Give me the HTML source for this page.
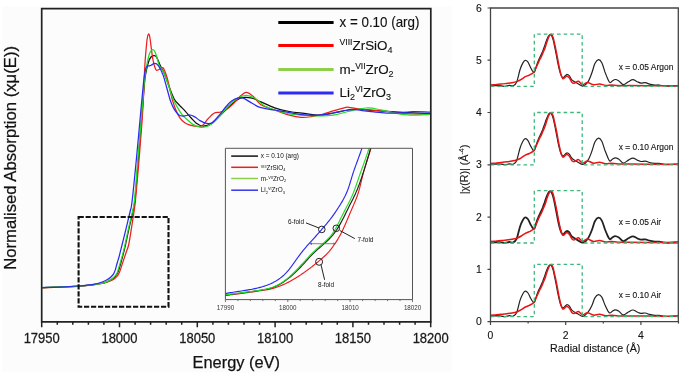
<!DOCTYPE html><html><head><meta charset="utf-8"><style>html,body{margin:0;padding:0;background:#fff;}svg{display:block;will-change:transform;}text{font-family:"Liberation Sans",sans-serif;}.b text,text.b{stroke:#1a1a1a;stroke-width:0.25px;}.s text,text.s{stroke:#1a1a1a;stroke-width:0.12px;}</style></head><body>
<svg width="685" height="375" viewBox="0 0 685 375">
<rect x="0" y="0" width="685" height="375" fill="#fff"/>
<rect x="2" y="6.4" width="449.5" height="366" fill="#fcfcfc"/>
<defs><clipPath id="cm"><rect x="42.5" y="9" width="387.5" height="312"/></clipPath>
<clipPath id="ci"><rect x="225.4" y="148.3" width="187.1" height="151.3"/></clipPath>
<clipPath id="cr"><rect x="490.5" y="8" width="187.5" height="313.6"/></clipPath></defs>
<g clip-path="url(#cm)" fill="none" stroke-width="1.25">
<path d="M42.0 287.7 C48.1 287.4 70.2 286.6 78.7 286.1 C87.2 285.6 89.4 285.1 93.3 284.6 C97.2 284.2 99.7 283.9 102.0 283.4 C104.3 282.9 105.1 282.6 107.0 281.8 C108.9 281.0 111.6 279.6 113.3 278.3 C115.0 277.0 116.0 275.5 117.0 274.0 C118.0 272.5 118.4 271.1 119.0 269.3 C119.6 267.5 120.1 265.4 120.8 263.0 C121.5 260.6 122.4 257.2 123.1 254.6 C123.8 252.0 123.9 251.7 124.9 247.4 C125.9 243.1 127.6 234.7 128.9 228.8 C130.2 222.9 131.8 216.8 132.8 212.0 C133.8 207.2 134.1 208.7 135.0 200.0 C135.9 191.3 137.1 175.0 138.3 160.0 C139.5 145.0 141.2 123.3 142.3 110.0 C143.4 96.7 144.1 86.7 144.8 80.0 C145.5 73.3 145.9 73.0 146.5 70.0 C147.1 67.0 147.8 64.2 148.5 62.0 C149.2 59.8 150.1 58.1 151.0 57.0 C151.9 55.9 153.0 55.6 153.9 55.6 C154.8 55.6 155.4 55.3 156.5 57.0 C157.6 58.7 158.9 62.6 160.3 65.6 C161.7 68.6 163.4 71.2 164.9 74.9 C166.4 78.6 168.0 84.0 169.6 88.0 C171.2 92.0 172.6 96.2 174.3 99.2 C176.0 102.2 178.1 103.7 179.9 105.7 C181.8 107.7 183.6 109.3 185.4 111.3 C187.2 113.3 189.1 115.8 191.0 117.8 C192.9 119.8 194.7 122.0 196.6 123.4 C198.5 124.8 199.9 125.9 202.3 126.0 C204.7 126.1 208.2 125.6 211.1 123.9 C214.0 122.2 217.0 118.6 219.9 115.8 C222.8 113.0 225.8 109.7 228.7 107.0 C231.6 104.3 235.0 101.3 237.4 99.7 C239.8 98.1 240.9 97.8 243.3 97.5 C245.8 97.2 249.2 97.5 252.1 98.2 C255.0 98.9 257.1 100.3 260.9 101.9 C264.7 103.5 270.0 106.3 274.7 107.9 C279.4 109.5 284.4 110.6 289.3 111.5 C294.2 112.4 299.1 112.8 304.0 113.4 C308.9 114.0 313.8 115.3 318.7 115.2 C323.6 115.1 328.4 113.9 333.3 113.0 C338.2 112.1 343.9 110.6 348.0 110.0 C352.1 109.4 352.8 109.1 357.6 109.2 C362.4 109.3 369.9 110.2 376.7 110.7 C383.5 111.2 389.8 111.6 398.7 112.1 C407.6 112.6 424.8 113.3 430.0 113.6" stroke="#111"/>
<path d="M42.0 287.8 C48.1 287.6 70.2 286.8 78.7 286.3 C87.2 285.8 89.4 285.4 93.3 284.8 C97.2 284.2 99.7 283.4 102.0 283.0 C104.3 282.6 105.2 282.7 107.0 282.2 C108.8 281.7 111.3 280.8 113.0 279.8 C114.7 278.8 116.1 277.5 117.2 276.2 C118.3 274.9 118.9 273.6 119.6 272.0 C120.3 270.4 120.7 268.7 121.4 266.6 C122.1 264.5 123.0 261.8 123.8 259.4 C124.6 257.0 125.4 254.6 126.2 252.2 C127.0 249.8 127.8 248.5 128.6 245.0 C129.4 241.5 130.2 236.3 131.0 231.2 C131.8 226.1 132.8 219.6 133.6 214.4 C134.3 209.2 134.6 209.1 135.5 200.0 C136.4 190.9 137.8 175.0 139.0 160.0 C140.2 145.0 141.9 125.0 142.8 110.0 C143.7 95.0 144.1 80.2 144.6 70.0 C145.1 59.8 145.6 54.3 146.1 49.0 C146.6 43.7 146.9 40.5 147.3 38.0 C147.7 35.5 148.1 34.2 148.5 34.0 C148.9 33.8 149.3 34.5 149.8 37.0 C150.3 39.5 150.9 45.2 151.4 49.0 C151.9 52.8 152.4 57.0 153.0 60.0 C153.6 63.0 154.2 65.3 154.8 67.0 C155.4 68.7 155.8 69.9 156.5 70.3 C157.2 70.7 157.9 69.9 159.0 69.5 C160.1 69.1 161.7 66.6 163.0 67.8 C164.3 69.0 165.7 73.4 166.8 76.8 C167.9 80.2 168.7 84.1 169.6 88.0 C170.5 91.9 171.3 96.4 172.4 100.1 C173.5 103.8 174.8 107.5 176.1 110.4 C177.3 113.4 178.5 115.8 179.9 117.8 C181.3 119.8 182.9 121.3 184.5 122.5 C186.1 123.7 187.5 124.3 189.2 124.9 C190.9 125.5 193.0 126.0 194.8 126.2 C196.6 126.4 198.6 126.5 200.0 126.3 C201.4 126.1 201.7 126.3 203.0 125.0 C204.3 123.7 206.3 120.7 208.1 118.7 C209.9 116.7 212.0 114.3 214.0 113.2 C216.0 112.1 218.0 112.6 219.9 112.1 C221.8 111.5 223.5 111.2 225.7 109.9 C227.9 108.6 230.8 106.1 233.0 104.0 C235.2 101.9 236.7 99.5 238.9 97.5 C241.1 95.5 243.8 92.4 246.2 92.3 C248.6 92.2 251.2 94.6 253.6 96.7 C256.1 98.8 257.4 102.6 260.9 104.8 C264.4 107.0 270.0 108.3 274.7 110.0 C279.4 111.7 284.9 114.0 289.3 115.2 C293.7 116.4 297.3 117.2 301.0 117.4 C304.7 117.7 307.9 117.2 311.3 116.7 C314.7 116.2 317.9 115.5 321.6 114.5 C325.3 113.5 329.4 112.0 333.3 110.8 C337.2 109.6 342.4 108.2 345.0 107.6 C347.6 107.0 346.7 107.1 348.8 107.3 C350.9 107.5 354.2 108.4 357.6 108.8 C361.0 109.2 364.9 109.5 369.3 109.9 C373.7 110.3 379.1 110.6 384.0 111.1 C388.9 111.6 393.8 112.4 398.7 112.9 C403.6 113.4 408.1 113.8 413.3 114.0 C418.5 114.2 427.2 114.2 430.0 114.3" stroke="#ee1c1c"/>
<path d="M42.0 287.7 C48.1 287.4 70.2 286.6 78.7 286.1 C87.2 285.6 89.4 285.1 93.3 284.6 C97.2 284.1 99.7 283.8 102.0 283.3 C104.3 282.8 105.2 282.5 107.0 281.6 C108.8 280.7 111.4 279.3 113.0 278.0 C114.6 276.7 115.7 275.3 116.6 273.8 C117.5 272.3 117.8 270.8 118.4 269.0 C119.0 267.2 119.5 265.4 120.2 263.0 C120.9 260.6 121.9 257.2 122.6 254.6 C123.3 252.0 123.4 251.7 124.4 247.4 C125.4 243.1 127.1 234.7 128.4 228.8 C129.7 222.9 131.4 216.8 132.4 212.0 C133.4 207.2 133.6 208.7 134.5 200.0 C135.4 191.3 136.6 175.0 137.8 160.0 C139.1 145.0 140.9 123.3 142.0 110.0 C143.1 96.7 143.8 87.0 144.5 80.0 C145.2 73.0 145.6 71.8 146.3 68.0 C147.0 64.2 147.8 59.8 148.5 57.0 C149.2 54.2 149.8 52.7 150.5 51.5 C151.2 50.3 151.9 49.7 152.6 49.6 C153.3 49.5 153.8 49.9 154.5 51.0 C155.2 52.1 155.7 53.6 156.5 56.0 C157.3 58.4 158.1 62.8 159.3 65.6 C160.6 68.4 162.4 69.6 164.0 73.0 C165.6 76.4 167.3 82.0 168.7 86.0 C170.1 90.0 171.0 93.9 172.4 97.3 C173.8 100.7 175.4 103.8 177.0 106.6 C178.6 109.4 180.0 111.9 181.7 114.1 C183.4 116.3 185.4 118.0 187.3 119.7 C189.2 121.4 190.8 123.2 192.9 124.4 C195.0 125.7 198.0 126.8 200.0 127.2 C202.0 127.6 203.2 127.5 205.0 127.0 C206.8 126.5 208.6 125.8 211.1 123.9 C213.6 122.0 217.0 118.9 219.9 115.8 C222.8 112.7 225.8 108.4 228.7 105.5 C231.6 102.6 234.5 99.9 237.4 98.2 C240.3 96.5 243.3 95.3 246.2 95.3 C249.1 95.3 252.1 96.5 255.0 98.2 C257.9 99.9 260.5 103.5 263.8 105.5 C267.1 107.5 270.4 108.6 274.7 110.0 C278.9 111.4 284.4 113.1 289.3 114.0 C294.2 114.9 299.1 114.9 304.0 115.2 C308.9 115.5 313.8 115.9 318.7 115.9 C323.6 115.9 328.4 115.9 333.3 115.2 C338.2 114.5 342.5 112.7 348.0 111.5 C353.5 110.3 360.9 108.3 366.4 108.0 C371.9 107.7 376.1 109.0 381.0 109.9 C385.9 110.8 390.8 112.3 395.7 113.2 C400.6 114.1 404.7 114.9 410.4 115.1 C416.1 115.3 426.7 114.4 430.0 114.3" stroke="#22dd22"/>
<path d="M42.0 287.6 C45.0 287.5 53.9 287.4 60.0 287.1 C66.1 286.8 73.2 286.4 78.7 286.0 C84.2 285.6 89.4 285.1 93.3 284.4 C97.2 283.7 99.9 282.8 102.2 282.0 C104.5 281.2 105.6 280.6 107.0 279.8 C108.4 279.0 109.5 278.2 110.6 277.2 C111.7 276.2 112.8 275.1 113.6 273.8 C114.4 272.5 114.8 271.4 115.4 269.6 C116.0 267.8 116.6 265.1 117.2 263.0 C117.8 260.9 118.4 259.2 119.0 257.0 C119.6 254.8 120.3 251.8 120.8 249.8 C121.3 247.8 121.1 248.5 122.0 245.0 C122.9 241.5 124.7 234.3 126.0 228.8 C127.3 223.3 129.0 216.5 130.0 212.0 C131.0 207.5 130.9 210.7 132.0 202.0 C133.1 193.3 134.8 175.3 136.3 160.0 C137.8 144.7 139.8 122.0 140.9 110.0 C142.0 98.0 142.4 94.0 143.0 88.0 C143.6 82.0 144.0 77.5 144.6 74.0 C145.2 70.5 145.6 68.4 146.4 67.0 C147.2 65.6 148.5 66.1 149.3 65.8 C150.1 65.5 150.1 65.7 151.0 65.3 C151.9 64.9 153.5 63.4 154.7 63.4 C155.9 63.4 157.0 63.7 158.4 65.6 C159.8 67.5 161.6 71.2 163.0 74.9 C164.4 78.6 165.6 83.7 166.8 88.0 C168.1 92.3 169.2 97.4 170.5 101.0 C171.8 104.6 172.9 107.1 174.3 109.4 C175.7 111.7 177.4 113.9 178.9 115.0 C180.4 116.1 181.7 116.0 183.6 116.0 C185.5 116.0 188.2 114.8 190.1 115.0 C192.0 115.2 193.2 116.0 194.8 116.9 C196.5 117.8 198.0 119.5 200.0 120.6 C202.0 121.7 204.6 123.1 206.7 123.4 C208.8 123.7 210.3 123.9 212.5 122.4 C214.7 120.9 217.7 116.9 219.9 114.3 C222.1 111.7 223.8 109.2 225.7 107.0 C227.6 104.8 229.5 102.6 231.6 101.1 C233.7 99.6 236.2 98.4 238.2 97.9 C240.1 97.4 241.0 97.3 243.3 98.2 C245.6 99.1 249.2 101.7 252.1 103.3 C255.0 104.9 257.1 106.6 260.9 107.7 C264.7 108.8 270.0 109.2 274.7 110.0 C279.4 110.8 284.4 111.8 289.3 112.6 C294.2 113.4 299.1 114.5 304.0 114.9 C308.9 115.3 313.8 115.5 318.7 115.2 C323.6 114.9 328.4 113.9 333.3 113.0 C338.2 112.1 344.4 110.6 348.0 110.0 C351.6 109.4 351.1 109.4 354.7 109.6 C358.2 109.8 364.4 110.9 369.3 111.4 C374.2 112.0 379.1 112.7 384.0 112.9 C388.9 113.2 393.8 113.1 398.7 112.9 C403.6 112.7 408.1 111.8 413.3 111.7 C418.5 111.6 427.2 112.0 430.0 112.1" stroke="#2b2bf0"/>
</g>
<rect x="78.6" y="217" width="89.9" height="89.8" fill="none" stroke="#111" stroke-width="2.1" stroke-dasharray="5.2 1.8"/>
<line x1="278.3" y1="22.6" x2="333.6" y2="22.6" stroke="#000" stroke-width="3"/>
<line x1="278.3" y1="45.5" x2="333.6" y2="45.5" stroke="#f00" stroke-width="3"/>
<line x1="278.3" y1="69.4" x2="333.6" y2="69.4" stroke="#8dce4c" stroke-width="3"/>
<line x1="278.3" y1="93.0" x2="333.6" y2="93.0" stroke="#2c2cf5" stroke-width="3"/>
<g class="s" font-size="13.4" fill="#111">
<text x="339.5" y="0" transform="translate(0 26.5) scale(1 1.07)">x = 0.10 (arg)</text>
<text x="339.5" y="49.6"><tspan font-size="8.7" dy="-5">VIII</tspan><tspan dy="5">ZrSiO</tspan><tspan font-size="9" dy="3">4</tspan></text>
<text x="339.5" y="73.6">m-<tspan font-size="8.5" dy="-5">VII</tspan><tspan dy="5">ZrO</tspan><tspan font-size="9" dy="3">2</tspan></text>
<text x="339.5" y="96.6">Li<tspan font-size="9" dy="3">2</tspan><tspan font-size="8.5" dy="-8">VI</tspan><tspan dy="5">ZrO</tspan><tspan font-size="9" dy="3">3</tspan></text>
</g>
<g clip-path="url(#ci)" fill="none" stroke-width="1.15">
<path d="M225.00 295.50 L226.46 295.32 L227.92 295.14 L229.38 294.96 L230.84 294.78 L232.30 294.60 L233.76 294.41 L235.22 294.23 L236.68 294.04 L238.14 293.86 L239.60 293.66 L241.06 293.47 L242.52 293.28 L243.98 293.08 L245.44 292.88 L246.90 292.67 L248.35 292.46 L249.81 292.25 L251.27 292.03 L252.72 291.81 L254.18 291.59 L255.63 291.36 L257.09 291.14 L258.55 290.93 L260.01 290.71 L261.46 290.51 L262.92 290.30 L264.38 290.10 L265.83 289.88 L267.28 289.64 L268.73 289.38 L270.16 289.09 L271.59 288.76 L273.01 288.38 L274.42 287.97 L275.81 287.52 L277.20 287.05 L278.58 286.54 L279.96 286.01 L281.32 285.46 L282.68 284.88 L284.02 284.28 L285.36 283.66 L286.69 283.02 L288.01 282.37 L289.32 281.69 L290.62 281.00 L291.91 280.29 L293.19 279.57 L294.46 278.82 L295.72 278.06 L296.97 277.29 L298.21 276.49 L299.44 275.69 L300.66 274.87 L301.88 274.04 L303.09 273.20 L304.29 272.35 L305.49 271.50 L306.69 270.64 L307.88 269.77 L309.06 268.90 L310.24 268.01 L311.41 267.12 L312.57 266.21 L313.73 265.30 L314.87 264.38 L316.02 263.45 L317.16 262.51 L318.29 261.57 L319.42 260.62 L320.55 259.67 L321.67 258.71 L322.78 257.75 L323.88 256.76 L324.96 255.77 L326.02 254.75 L327.05 253.71 L328.06 252.64 L329.04 251.55 L329.99 250.43 L330.91 249.29 L331.81 248.13 L332.68 246.94 L333.53 245.74 L334.37 244.53 L335.19 243.31 L336.00 242.07 L336.80 240.83 L337.57 239.58 L338.33 238.32 L339.06 237.04 L339.78 235.76 L340.48 234.46 L341.16 233.16 L341.82 231.84 L342.47 230.52 L343.11 229.20 L343.73 227.86 L344.34 226.52 L344.94 225.18 L345.53 223.83 L346.11 222.48 L346.69 221.12 L347.26 219.77 L347.83 218.41 L348.40 217.05 L348.98 215.69 L349.55 214.34 L350.13 212.98 L350.71 211.63 L351.29 210.28 L351.88 208.92 L352.46 207.57 L353.04 206.22 L353.62 204.87 L354.21 203.51 L354.78 202.16 L355.35 200.80 L355.90 199.44 L356.44 198.07 L356.96 196.70 L357.46 195.32 L357.93 193.93 L358.37 192.53 L358.79 191.12 L359.19 189.71 L359.58 188.29 L359.95 186.87 L360.31 185.44 L360.66 184.01 L361.00 182.58 L361.34 181.14 L361.68 179.71 L362.02 178.27 L362.36 176.84 L362.72 175.41 L363.08 173.98 L363.46 172.56 L363.85 171.14 L364.25 169.72 L364.66 168.31 L365.08 166.90 L365.50 165.49 L365.94 164.08 L366.38 162.68 L366.82 161.27 L367.27 159.87 L367.71 158.47 L368.16 157.07 L368.62 155.66 L369.07 154.26 L369.51 152.86 L369.96 151.46 L370.40 150.05 L370.84 148.65 L371.27 147.24 L371.69 145.83 L372.11 144.42 L372.53 143.01" stroke="#ee1c1c"/>
<path d="M225.00 293.59 L226.36 293.36 L227.72 293.14 L229.08 292.91 L230.44 292.69 L231.80 292.47 L233.16 292.25 L234.52 292.04 L235.88 291.82 L237.24 291.61 L238.61 291.41 L239.97 291.20 L241.33 291.00 L242.70 290.80 L244.06 290.59 L245.42 290.38 L246.78 290.16 L248.14 289.93 L249.50 289.69 L250.86 289.45 L252.21 289.19 L253.57 288.91 L254.92 288.63 L256.26 288.33 L257.61 288.01 L258.95 287.68 L260.28 287.33 L261.61 286.96 L262.93 286.57 L264.25 286.16 L265.56 285.72 L266.86 285.26 L268.15 284.77 L269.43 284.26 L270.69 283.71 L271.94 283.13 L273.18 282.51 L274.39 281.87 L275.59 281.19 L276.77 280.48 L277.93 279.74 L279.07 278.96 L280.19 278.16 L281.28 277.32 L282.35 276.45 L283.39 275.55 L284.40 274.62 L285.38 273.66 L286.33 272.67 L287.25 271.65 L288.15 270.61 L289.03 269.55 L289.89 268.47 L290.73 267.37 L291.55 266.27 L292.37 265.15 L293.17 264.03 L293.97 262.90 L294.76 261.77 L295.56 260.64 L296.35 259.51 L297.15 258.39 L297.96 257.27 L298.78 256.16 L299.60 255.05 L300.44 253.96 L301.28 252.87 L302.14 251.79 L303.00 250.72 L303.87 249.65 L304.75 248.59 L305.64 247.54 L306.54 246.49 L307.44 245.45 L308.35 244.41 L309.27 243.38 L310.19 242.36 L311.11 241.34 L312.04 240.32 L312.97 239.30 L313.90 238.29 L314.83 237.27 L315.76 236.25 L316.68 235.22 L317.59 234.19 L318.50 233.15 L319.41 232.12 L320.31 231.07 L321.21 230.03 L322.11 228.99 L323.01 227.95 L323.91 226.90 L324.81 225.86 L325.71 224.81 L326.60 223.76 L327.48 222.70 L328.36 221.64 L329.22 220.57 L330.07 219.48 L330.91 218.39 L331.74 217.29 L332.55 216.18 L333.36 215.06 L334.15 213.93 L334.94 212.80 L335.72 211.66 L336.48 210.51 L337.24 209.36 L338.00 208.20 L338.74 207.04 L339.47 205.87 L340.20 204.70 L340.92 203.52 L341.63 202.34 L342.33 201.15 L343.02 199.96 L343.69 198.76 L344.34 197.55 L344.97 196.33 L345.57 195.10 L346.15 193.86 L346.69 192.60 L347.20 191.33 L347.70 190.05 L348.17 188.76 L348.62 187.46 L349.06 186.15 L349.48 184.84 L349.89 183.52 L350.30 182.20 L350.70 180.88 L351.10 179.55 L351.49 178.23 L351.89 176.90 L352.30 175.58 L352.71 174.26 L353.14 172.95 L353.57 171.64 L354.02 170.33 L354.47 169.02 L354.93 167.72 L355.40 166.42 L355.87 165.13 L356.34 163.83 L356.82 162.54 L357.29 161.25 L357.77 159.95 L358.25 158.66 L358.73 157.37 L359.20 156.07 L359.67 154.78 L360.13 153.48 L360.59 152.19 L361.04 150.88 L361.48 149.58 L361.91 148.27 L362.33 146.96 L362.75 145.65 L363.16 144.34 L363.56 143.02" stroke="#2b2bf0"/>
<path d="M225.00 295.10 L226.43 294.92 L227.86 294.75 L229.29 294.57 L230.73 294.39 L232.16 294.21 L233.59 294.03 L235.02 293.85 L236.45 293.67 L237.88 293.48 L239.31 293.30 L240.74 293.11 L242.17 292.93 L243.60 292.74 L245.03 292.55 L246.46 292.36 L247.89 292.17 L249.32 291.98 L250.75 291.79 L252.18 291.60 L253.61 291.40 L255.04 291.19 L256.47 290.98 L257.90 290.77 L259.33 290.54 L260.76 290.31 L262.18 290.06 L263.60 289.80 L265.02 289.52 L266.43 289.22 L267.84 288.89 L269.23 288.52 L270.61 288.13 L271.98 287.69 L273.34 287.21 L274.68 286.69 L276.00 286.13 L277.30 285.53 L278.58 284.88 L279.85 284.19 L281.09 283.46 L282.31 282.70 L283.52 281.91 L284.71 281.10 L285.89 280.26 L287.06 279.41 L288.20 278.53 L289.33 277.63 L290.45 276.72 L291.55 275.78 L292.63 274.82 L293.69 273.85 L294.74 272.86 L295.78 271.85 L296.81 270.84 L297.83 269.82 L298.85 268.80 L299.86 267.77 L300.87 266.74 L301.87 265.70 L302.86 264.65 L303.84 263.60 L304.81 262.53 L305.77 261.46 L306.73 260.38 L307.68 259.30 L308.64 258.23 L309.60 257.16 L310.58 256.11 L311.58 255.07 L312.60 254.06 L313.63 253.06 L314.68 252.07 L315.74 251.09 L316.81 250.13 L317.89 249.17 L318.97 248.21 L320.06 247.26 L321.15 246.31 L322.24 245.36 L323.33 244.40 L324.42 243.44 L325.49 242.47 L326.56 241.50 L327.61 240.51 L328.65 239.51 L329.66 238.49 L330.66 237.45 L331.63 236.39 L332.57 235.30 L333.48 234.19 L334.36 233.06 L335.22 231.90 L336.04 230.73 L336.85 229.53 L337.63 228.32 L338.39 227.10 L339.13 225.86 L339.85 224.61 L340.56 223.36 L341.26 222.09 L341.94 220.82 L342.61 219.54 L343.27 218.25 L343.92 216.96 L344.57 215.67 L345.21 214.38 L345.85 213.08 L346.48 211.78 L347.12 210.49 L347.75 209.19 L348.39 207.90 L349.03 206.60 L349.67 205.31 L350.32 204.02 L350.98 202.74 L351.64 201.46 L352.30 200.18 L352.95 198.89 L353.60 197.60 L354.23 196.31 L354.85 195.01 L355.45 193.70 L356.03 192.38 L356.60 191.06 L357.16 189.73 L357.70 188.40 L358.23 187.05 L358.74 185.71 L359.25 184.36 L359.74 183.00 L360.23 181.64 L360.71 180.28 L361.18 178.91 L361.64 177.54 L362.10 176.17 L362.56 174.80 L363.01 173.43 L363.45 172.06 L363.90 170.68 L364.34 169.31 L364.77 167.93 L365.20 166.56 L365.63 165.18 L366.06 163.80 L366.48 162.42 L366.90 161.04 L367.31 159.66 L367.73 158.28 L368.13 156.89 L368.54 155.51 L368.94 154.12 L369.34 152.74 L369.73 151.35 L370.12 149.96 L370.50 148.57 L370.89 147.18 L371.27 145.79 L371.64 144.40 L372.02 143.01" stroke="#222"/>
<path d="M225.00 294.90 L226.42 294.73 L227.84 294.55 L229.27 294.37 L230.69 294.19 L232.11 294.02 L233.53 293.84 L234.95 293.66 L236.37 293.48 L237.80 293.29 L239.22 293.11 L240.64 292.93 L242.06 292.74 L243.48 292.56 L244.90 292.37 L246.32 292.18 L247.74 291.99 L249.17 291.81 L250.59 291.62 L252.01 291.42 L253.43 291.23 L254.85 291.03 L256.27 290.82 L257.69 290.61 L259.11 290.39 L260.53 290.15 L261.95 289.91 L263.36 289.65 L264.77 289.38 L266.17 289.08 L267.56 288.75 L268.95 288.39 L270.32 287.99 L271.68 287.54 L273.02 287.06 L274.34 286.53 L275.65 285.96 L276.94 285.35 L278.21 284.69 L279.46 283.99 L280.68 283.26 L281.89 282.49 L283.08 281.69 L284.25 280.86 L285.41 280.01 L286.55 279.14 L287.67 278.24 L288.77 277.33 L289.85 276.39 L290.91 275.43 L291.96 274.45 L292.99 273.45 L294.00 272.44 L295.01 271.41 L296.01 270.38 L297.00 269.35 L297.99 268.31 L298.98 267.28 L299.98 266.24 L300.97 265.21 L301.96 264.17 L302.94 263.13 L303.91 262.08 L304.88 261.02 L305.84 259.96 L306.79 258.89 L307.74 257.82 L308.69 256.76 L309.66 255.71 L310.64 254.67 L311.65 253.66 L312.67 252.66 L313.71 251.68 L314.76 250.71 L315.83 249.75 L316.90 248.80 L317.98 247.86 L319.07 246.92 L320.16 245.98 L321.25 245.03 L322.33 244.09 L323.41 243.14 L324.48 242.17 L325.53 241.20 L326.57 240.21 L327.59 239.20 L328.59 238.18 L329.56 237.13 L330.49 236.05 L331.39 234.95 L332.25 233.82 L333.07 232.66 L333.86 231.47 L334.61 230.26 L335.33 229.03 L336.04 227.78 L336.72 226.53 L337.38 225.26 L338.04 223.98 L338.68 222.70 L339.31 221.41 L339.94 220.12 L340.57 218.83 L341.20 217.53 L341.84 216.25 L342.49 214.96 L343.14 213.68 L343.79 212.41 L344.45 211.13 L345.12 209.86 L345.78 208.59 L346.45 207.32 L347.11 206.05 L347.77 204.78 L348.43 203.51 L349.09 202.24 L349.73 200.96 L350.36 199.68 L350.97 198.38 L351.56 197.08 L352.13 195.77 L352.69 194.46 L353.23 193.13 L353.76 191.80 L354.27 190.47 L354.78 189.13 L355.27 187.78 L355.76 186.43 L356.24 185.08 L356.71 183.73 L357.18 182.37 L357.64 181.01 L358.11 179.65 L358.57 178.29 L359.04 176.93 L359.50 175.58 L359.97 174.22 L360.45 172.87 L360.93 171.51 L361.42 170.16 L361.90 168.81 L362.39 167.46 L362.88 166.11 L363.37 164.77 L363.86 163.42 L364.35 162.07 L364.83 160.72 L365.32 159.37 L365.79 158.02 L366.27 156.67 L366.73 155.32 L367.19 153.96 L367.65 152.60 L368.09 151.24 L368.52 149.88 L368.95 148.51 L369.36 147.14 L369.77 145.77 L370.16 144.40 L370.56 143.02" stroke="#22dd22"/>
</g>
<path d="M225.4 299.6 V148.3 H412.5 V299.6 Z" fill="none" stroke="#555" stroke-width="1"/>
<path d="M225.4 299.6 v2.5 M237.9 299.6 v1.5 M250.3 299.6 v1.5 M262.8 299.6 v1.5 M275.3 299.6 v1.5 M287.8 299.6 v2.5 M300.2 299.6 v1.5 M312.7 299.6 v1.5 M325.2 299.6 v1.5 M337.7 299.6 v1.5 M350.1 299.6 v2.5 M362.6 299.6 v1.5 M375.1 299.6 v1.5 M387.6 299.6 v1.5 M400.0 299.6 v1.5 M412.5 299.6 v2.5" stroke="#555" stroke-width="0.8"/>
<g font-size="7.6" fill="#333">
<text x="216.8" y="310.1" textLength="17.3" lengthAdjust="spacingAndGlyphs">17990</text>
<text x="279.1" y="310.1" textLength="17.3" lengthAdjust="spacingAndGlyphs">18000</text>
<text x="341.5" y="310.1" textLength="17.3" lengthAdjust="spacingAndGlyphs">18010</text>
<text x="403.9" y="310.1" textLength="17.3" lengthAdjust="spacingAndGlyphs">18020</text>
</g>
<line x1="231.2" y1="156.1" x2="258" y2="156.1" stroke="#111" stroke-width="1.5"/>
<line x1="231.2" y1="167.3" x2="258" y2="167.3" stroke="#ee1c1c" stroke-width="1.5"/>
<line x1="231.2" y1="178.5" x2="258" y2="178.5" stroke="#8dce4c" stroke-width="1.5"/>
<line x1="231.2" y1="190.2" x2="258" y2="190.2" stroke="#3535ee" stroke-width="1.5"/>
<g font-size="6.4" fill="#111">
<text x="260.8" y="158.3">x = 0.10 (arg)</text>
<text x="260.8" y="169.5"><tspan font-size="3.8" dy="-2">VIII</tspan><tspan dy="2">ZrSiO</tspan><tspan font-size="4" dy="1.3">4</tspan></text>
<text x="260.8" y="180.7">m-<tspan font-size="3.8" dy="-2">VII</tspan><tspan dy="2">ZrO</tspan><tspan font-size="4" dy="1.3">2</tspan></text>
<text x="260.8" y="192.2">Li<tspan font-size="4" dy="1.3">2</tspan><tspan font-size="3.8" dy="-3.3">VI</tspan><tspan dy="2">ZrO</tspan><tspan font-size="4" dy="1.3">3</tspan></text>
</g>
<g fill="none" stroke="#222" stroke-width="1">
<circle cx="321.8" cy="229.4" r="3.3"/><circle cx="336.3" cy="228.3" r="3.3"/><circle cx="319.1" cy="261.8" r="3.5"/>
<path d="M306 222.9 L319 228"/><path d="M339.8 230.5 L354.8 238.6"/><path d="M321 264.8 L324.6 279.8"/>
</g>
<g stroke="#666" stroke-width="0.8" fill="#666"><path d="M310.5 243.7 H335"/><path d="M309.5 243.7 l2.5 -1.2 v2.4z M336 243.7 l-2.5 -1.2 v2.4z" stroke="none"/></g>
<g font-size="6.4" fill="#111">
<text x="288" y="223.6">6-fold</text><text x="357.4" y="242.2">7-fold</text><text x="318.1" y="286.5">8-fold</text>
</g>
<path d="M41.7 8.6 H430.8 V321.8 H41.7 Z" fill="none" stroke="#222" stroke-width="1.7"/>
<path d="M41.7 321.8 v5.5 M57.3 321.8 v3.0 M72.8 321.8 v3.0 M88.4 321.8 v3.0 M103.9 321.8 v3.0 M119.5 321.8 v5.5 M135.1 321.8 v3.0 M150.6 321.8 v3.0 M166.2 321.8 v3.0 M181.7 321.8 v3.0 M197.3 321.8 v5.5 M212.9 321.8 v3.0 M228.4 321.8 v3.0 M244.0 321.8 v3.0 M259.5 321.8 v3.0 M275.1 321.8 v5.5 M290.7 321.8 v3.0 M306.2 321.8 v3.0 M321.8 321.8 v3.0 M337.3 321.8 v3.0 M352.9 321.8 v5.5 M368.5 321.8 v3.0 M384.0 321.8 v3.0 M399.6 321.8 v3.0 M415.1 321.8 v3.0 M430.7 321.8 v5.5" stroke="#222" stroke-width="1.5"/>
<g class="b" font-size="13" fill="#1a1a1a" text-anchor="middle" transform="translate(0 342.6) scale(1 1.08)">
<text x="41.7" y="0">17950</text>
<text x="119.5" y="0">18000</text>
<text x="197.3" y="0">18050</text>
<text x="275.1" y="0">18100</text>
<text x="352.9" y="0">18150</text>
<text x="430.7" y="0">18200</text>
</g>
<text class="b" x="236.3" y="367.7" font-size="16.4" fill="#111" text-anchor="middle">Energy (eV)</text>
<text class="b" transform="translate(16.4 157.9) rotate(-90)" font-size="16.7" fill="#111" text-anchor="middle">Normalised Absorption (xμ(E))</text>
<g clip-path="url(#cr)">
<path d="M490.5 86.1 C491.4 86.0 494.2 85.5 496.0 85.4 C497.8 85.4 499.7 85.7 501.3 85.8 C502.8 86.0 504.0 86.4 505.3 86.3 C506.6 86.2 508.0 85.5 509.3 85.4 C510.6 85.3 512.1 86.4 513.3 85.8 C514.5 85.3 515.6 84.7 516.7 82.0 C517.8 79.3 519.0 72.9 520.0 69.8 C521.0 66.6 522.0 64.5 522.9 62.9 C523.8 61.3 524.5 60.4 525.3 60.3 C526.2 60.1 527.1 61.0 528.0 62.2 C528.9 63.5 529.8 66.1 530.7 67.7 C531.6 69.4 532.6 71.5 533.3 72.1 C534.0 72.7 534.3 72.2 534.7 71.4 C535.2 70.6 535.4 68.8 536.0 67.1 C536.6 65.3 537.5 62.6 538.3 60.8 C539.0 59.0 539.8 57.7 540.5 56.1 C541.2 54.5 541.9 53.0 542.6 51.4 C543.2 49.7 543.8 47.9 544.5 46.2 C545.1 44.4 545.7 42.5 546.3 40.9 C547.0 39.3 547.7 37.5 548.2 36.5 C548.8 35.4 549.2 34.9 549.7 34.7 C550.2 34.4 550.6 34.4 551.0 34.9 C551.5 35.4 552.0 36.4 552.5 37.8 C553.0 39.2 553.5 41.0 554.0 43.5 C554.6 46.1 555.3 49.7 555.9 52.9 C556.6 56.2 557.2 59.8 557.8 62.9 C558.4 65.9 559.1 69.0 559.7 71.2 C560.3 73.5 561.0 75.4 561.6 76.5 C562.2 77.5 562.6 77.6 563.3 77.5 C563.9 77.4 564.7 76.2 565.3 75.7 C566.0 75.2 566.5 74.3 567.2 74.4 C567.9 74.4 568.6 75.0 569.5 75.9 C570.3 76.9 570.7 78.9 572.1 80.1 C573.5 81.4 575.9 82.5 577.7 83.5 C579.5 84.5 581.2 86.4 582.9 86.1 C584.6 85.8 586.5 84.0 588.0 81.8 C589.5 79.6 590.8 75.7 591.9 72.7 C593.1 69.6 593.8 65.7 594.9 63.5 C596.0 61.4 597.3 59.9 598.5 59.7 C599.6 59.6 600.7 60.7 601.8 62.8 C602.9 64.8 603.9 69.1 604.9 71.9 C606.0 74.7 607.2 77.7 608.0 79.5 C608.8 81.3 609.3 82.5 610.0 82.7 C610.7 83.0 611.4 81.5 612.3 80.9 C613.2 80.4 614.1 79.5 615.2 79.5 C616.3 79.5 617.6 80.1 618.9 80.9 C620.3 81.8 621.7 84.5 623.3 84.6 C624.9 84.8 626.8 82.5 628.4 81.7 C630.0 80.9 631.3 79.7 632.8 79.7 C634.3 79.7 635.9 81.1 637.2 81.7 C638.6 82.3 639.6 82.9 640.9 83.1 C642.2 83.3 643.9 82.5 645.3 82.7 C646.7 82.9 648.0 83.7 649.6 84.1 C651.2 84.5 653.2 84.8 654.8 85.0 C656.4 85.1 657.5 84.8 659.2 85.0 C660.9 85.2 663.1 85.9 665.0 86.1 C667.0 86.3 668.7 86.2 670.9 86.1 C673.2 86.0 677.2 85.7 678.5 85.6" fill="none" stroke="#222" stroke-width="1.2"/>
<path d="M490.5 85.0 C491.4 84.9 494.2 84.6 496.0 84.5 C497.8 84.3 499.5 84.2 501.3 84.0 C503.1 83.9 504.9 83.6 506.7 83.4 C508.5 83.2 510.2 83.1 512.0 82.7 C513.8 82.4 515.8 81.9 517.3 81.4 C518.9 80.8 520.0 80.2 521.3 79.4 C522.7 78.6 524.0 77.4 525.3 76.7 C526.6 76.0 528.0 75.8 529.3 75.1 C530.6 74.4 532.3 73.6 533.3 72.7 C534.3 71.8 534.6 71.0 535.2 69.7 C535.9 68.4 536.6 66.5 537.3 65.0 C538.0 63.4 538.7 61.6 539.4 60.3 C540.0 58.9 540.7 58.0 541.3 56.7 C541.9 55.4 542.5 54.0 543.1 52.4 C543.8 50.8 544.7 48.9 545.3 47.2 C545.9 45.5 546.3 43.7 546.9 42.0 C547.5 40.3 548.2 38.2 548.8 37.0 C549.3 35.8 549.7 35.4 550.1 34.9 C550.5 34.5 550.7 34.3 551.0 34.3 C551.3 34.3 551.6 34.3 552.0 34.9 C552.4 35.5 552.9 36.7 553.3 38.1 C553.7 39.4 554.0 41.2 554.4 43.0 C554.8 44.8 555.3 46.5 555.7 48.8 C556.2 51.0 556.7 53.6 557.2 56.3 C557.7 59.1 558.3 62.6 558.9 65.5 C559.5 68.4 560.2 71.7 560.8 73.9 C561.4 76.0 562.1 77.9 562.7 78.6 C563.3 79.2 563.9 78.2 564.6 77.8 C565.3 77.3 566.0 75.9 566.8 75.9 C567.6 76.0 568.6 76.9 569.5 78.0 C570.3 79.1 571.3 81.6 572.1 82.5 C572.8 83.4 573.3 83.3 574.0 83.3 C574.7 83.2 575.5 82.6 576.2 82.2 C577.0 81.9 577.4 80.8 578.5 81.2 C579.5 81.6 581.1 84.4 582.6 84.6 C584.1 84.8 585.7 82.4 587.5 82.5 C589.3 82.5 591.5 84.6 593.5 84.8 C595.5 85.1 597.5 83.8 599.5 83.9 C601.5 84.0 603.6 85.2 605.6 85.4 C607.6 85.5 609.4 84.9 611.6 84.9 C613.7 85.0 615.3 85.5 618.3 85.6 C621.3 85.7 624.6 85.6 629.6 85.6 C634.6 85.6 640.3 85.7 648.4 85.8 C656.6 85.8 673.5 85.9 678.5 85.9" fill="none" stroke="#e81515" stroke-width="1.5"/>
<path d="M490.5 164.5 C491.4 164.4 494.2 163.9 496.0 163.8 C497.8 163.8 499.7 164.1 501.3 164.2 C502.8 164.4 504.0 164.8 505.3 164.7 C506.6 164.6 508.0 163.9 509.3 163.8 C510.6 163.7 512.1 164.8 513.3 164.2 C514.5 163.7 515.6 163.1 516.7 160.4 C517.8 157.7 519.0 151.3 520.0 148.2 C521.0 145.0 522.0 142.9 522.9 141.3 C523.8 139.7 524.5 138.8 525.3 138.7 C526.2 138.5 527.1 139.4 528.0 140.6 C528.9 141.9 529.8 144.5 530.7 146.1 C531.6 147.8 532.6 149.9 533.3 150.5 C534.0 151.1 534.3 150.6 534.7 149.8 C535.2 149.0 535.4 147.2 536.0 145.5 C536.6 143.7 537.5 141.0 538.3 139.2 C539.0 137.4 539.8 136.1 540.5 134.5 C541.2 132.9 541.9 131.4 542.6 129.8 C543.2 128.1 543.8 126.3 544.5 124.6 C545.1 122.8 545.7 120.9 546.3 119.3 C547.0 117.7 547.7 115.9 548.2 114.9 C548.8 113.8 549.2 113.3 549.7 113.1 C550.2 112.8 550.6 112.8 551.0 113.3 C551.5 113.8 552.0 114.8 552.5 116.2 C553.0 117.6 553.5 119.4 554.0 121.9 C554.6 124.5 555.3 128.1 555.9 131.3 C556.6 134.6 557.2 138.2 557.8 141.3 C558.4 144.3 559.1 147.4 559.7 149.6 C560.3 151.9 561.0 153.8 561.6 154.9 C562.2 155.9 562.6 156.0 563.3 155.9 C563.9 155.8 564.7 154.6 565.3 154.1 C566.0 153.6 566.5 152.7 567.2 152.8 C567.9 152.8 568.6 153.4 569.5 154.3 C570.3 155.3 570.7 157.3 572.1 158.5 C573.5 159.8 575.9 160.9 577.7 161.9 C579.5 162.9 581.2 164.8 582.9 164.5 C584.6 164.2 586.5 162.4 588.0 160.2 C589.5 158.0 590.8 154.1 591.9 151.1 C593.1 148.0 593.8 144.1 594.9 141.9 C596.0 139.8 597.3 138.3 598.5 138.1 C599.6 138.0 600.7 139.1 601.8 141.2 C602.9 143.2 603.9 147.5 604.9 150.3 C606.0 153.1 607.2 156.1 608.0 157.9 C608.8 159.7 609.3 160.9 610.0 161.1 C610.7 161.4 611.4 159.9 612.3 159.3 C613.2 158.8 614.1 157.9 615.2 157.9 C616.3 157.9 617.6 158.5 618.9 159.3 C620.3 160.2 621.7 162.9 623.3 163.0 C624.9 163.2 626.8 160.9 628.4 160.1 C630.0 159.3 631.3 158.1 632.8 158.1 C634.3 158.1 635.9 159.5 637.2 160.1 C638.6 160.7 639.6 161.3 640.9 161.5 C642.2 161.7 643.9 160.9 645.3 161.1 C646.7 161.3 648.0 162.1 649.6 162.5 C651.2 162.9 653.2 163.2 654.8 163.4 C656.4 163.5 657.5 163.2 659.2 163.4 C660.9 163.6 663.1 164.3 665.0 164.5 C667.0 164.7 668.7 164.6 670.9 164.5 C673.2 164.4 677.2 164.1 678.5 164.0" fill="none" stroke="#222" stroke-width="1.2"/>
<path d="M490.5 163.4 C491.4 163.3 494.2 163.0 496.0 162.9 C497.8 162.7 499.5 162.6 501.3 162.4 C503.1 162.3 504.9 162.0 506.7 161.8 C508.5 161.6 510.2 161.5 512.0 161.1 C513.8 160.8 515.8 160.3 517.3 159.8 C518.9 159.2 520.0 158.6 521.3 157.8 C522.7 157.0 524.0 155.8 525.3 155.1 C526.6 154.4 528.0 154.2 529.3 153.5 C530.6 152.8 532.3 152.0 533.3 151.1 C534.3 150.2 534.6 149.4 535.2 148.1 C535.9 146.8 536.6 144.9 537.3 143.4 C538.0 141.8 538.7 140.0 539.4 138.7 C540.0 137.3 540.7 136.4 541.3 135.1 C541.9 133.8 542.5 132.4 543.1 130.8 C543.8 129.2 544.7 127.3 545.3 125.6 C545.9 123.9 546.3 122.1 546.9 120.4 C547.5 118.7 548.2 116.6 548.8 115.4 C549.3 114.2 549.7 113.8 550.1 113.3 C550.5 112.9 550.7 112.7 551.0 112.7 C551.3 112.7 551.6 112.7 552.0 113.3 C552.4 113.9 552.9 115.1 553.3 116.5 C553.7 117.8 554.0 119.6 554.4 121.4 C554.8 123.2 555.3 124.9 555.7 127.2 C556.2 129.4 556.7 132.0 557.2 134.7 C557.7 137.5 558.3 141.0 558.9 143.9 C559.5 146.8 560.2 150.1 560.8 152.3 C561.4 154.4 562.1 156.3 562.7 157.0 C563.3 157.6 563.9 156.6 564.6 156.2 C565.3 155.7 566.0 154.3 566.8 154.3 C567.6 154.4 568.6 155.3 569.5 156.4 C570.3 157.5 571.3 160.0 572.1 160.9 C572.8 161.8 573.3 161.7 574.0 161.7 C574.7 161.6 575.5 161.0 576.2 160.6 C577.0 160.3 577.4 159.2 578.5 159.6 C579.5 160.0 581.1 162.8 582.6 163.0 C584.1 163.2 585.7 160.8 587.5 160.9 C589.3 160.9 591.5 163.0 593.5 163.2 C595.5 163.5 597.5 162.2 599.5 162.3 C601.5 162.4 603.6 163.6 605.6 163.8 C607.6 163.9 609.4 163.3 611.6 163.3 C613.7 163.4 615.3 163.9 618.3 164.0 C621.3 164.1 624.6 164.0 629.6 164.0 C634.6 164.0 640.3 164.1 648.4 164.2 C656.6 164.2 673.5 164.3 678.5 164.3" fill="none" stroke="#e81515" stroke-width="1.5"/>
<path d="M490.5 242.7 C491.4 242.6 494.2 242.1 496.0 242.0 C497.8 242.0 499.7 242.3 501.3 242.4 C502.8 242.6 504.0 243.0 505.3 242.9 C506.6 242.8 508.0 242.1 509.3 242.0 C510.6 241.9 512.1 243.0 513.3 242.4 C514.5 241.9 515.6 241.3 516.7 238.7 C517.8 236.0 519.0 229.8 520.0 226.7 C521.0 223.6 522.0 221.6 522.9 220.0 C523.8 218.5 524.5 217.5 525.3 217.4 C526.2 217.3 527.1 218.1 528.0 219.3 C528.9 220.5 529.8 223.1 530.7 224.7 C531.6 226.3 532.6 228.1 533.3 228.7 C534.0 229.2 534.3 228.8 534.7 228.0 C535.2 227.2 535.4 225.4 536.0 223.7 C536.6 221.9 537.5 219.2 538.3 217.4 C539.0 215.6 539.8 214.3 540.5 212.7 C541.2 211.1 541.9 209.6 542.6 208.0 C543.2 206.3 543.8 204.5 544.5 202.8 C545.1 201.0 545.7 199.1 546.3 197.5 C547.0 195.9 547.7 194.1 548.2 193.1 C548.8 192.0 549.2 191.5 549.7 191.3 C550.2 191.0 550.6 191.0 551.0 191.5 C551.5 192.0 552.0 193.0 552.5 194.4 C553.0 195.8 553.5 197.6 554.0 200.1 C554.6 202.7 555.3 206.3 555.9 209.5 C556.6 212.8 557.2 216.4 557.8 219.5 C558.4 222.5 559.1 225.6 559.7 227.8 C560.3 230.1 561.0 232.0 561.6 233.1 C562.2 234.1 562.6 234.2 563.3 234.1 C563.9 234.0 564.7 232.8 565.3 232.3 C566.0 231.8 566.5 230.9 567.2 231.0 C567.9 231.0 568.6 231.6 569.5 232.5 C570.3 233.5 570.7 235.5 572.1 236.7 C573.5 238.0 575.9 239.1 577.7 240.1 C579.5 241.1 581.2 243.0 582.9 242.7 C584.6 242.4 586.5 240.5 588.0 238.4 C589.5 236.3 590.8 232.8 591.9 230.0 C593.1 227.1 593.8 223.3 594.9 221.3 C596.0 219.3 597.3 217.8 598.5 217.7 C599.6 217.6 600.7 218.6 601.8 220.6 C602.9 222.5 603.9 226.6 604.9 229.2 C606.0 231.9 607.2 234.8 608.0 236.5 C608.8 238.2 609.3 239.2 610.0 239.3 C610.7 239.5 611.4 238.1 612.3 237.5 C613.2 237.0 614.1 236.1 615.2 236.1 C616.3 236.1 617.6 236.7 618.9 237.5 C620.3 238.4 621.7 241.1 623.3 241.2 C624.9 241.4 626.8 239.1 628.4 238.3 C630.0 237.5 631.3 236.3 632.8 236.3 C634.3 236.3 635.9 237.7 637.2 238.3 C638.6 238.9 639.6 239.5 640.9 239.7 C642.2 239.9 643.9 239.1 645.3 239.3 C646.7 239.5 648.0 240.3 649.6 240.7 C651.2 241.1 653.2 241.4 654.8 241.6 C656.4 241.7 657.5 241.4 659.2 241.6 C660.9 241.8 663.1 242.5 665.0 242.7 C667.0 242.9 668.7 242.8 670.9 242.7 C673.2 242.6 677.2 242.3 678.5 242.2" fill="none" stroke="#222" stroke-width="1.8"/>
<path d="M490.5 241.6 C491.4 241.5 494.2 241.2 496.0 241.1 C497.8 240.9 499.5 240.8 501.3 240.6 C503.1 240.5 504.9 240.2 506.7 240.0 C508.5 239.8 510.2 239.7 512.0 239.3 C513.8 239.0 515.8 238.5 517.3 238.0 C518.9 237.4 520.0 236.8 521.3 236.0 C522.7 235.2 524.0 234.0 525.3 233.3 C526.6 232.6 528.0 232.4 529.3 231.7 C530.6 231.0 532.3 230.2 533.3 229.3 C534.3 228.4 534.6 227.6 535.2 226.3 C535.9 225.0 536.6 223.1 537.3 221.6 C538.0 220.0 538.7 218.2 539.4 216.9 C540.0 215.5 540.7 214.6 541.3 213.3 C541.9 212.0 542.5 210.6 543.1 209.0 C543.8 207.4 544.7 205.5 545.3 203.8 C545.9 202.1 546.3 200.3 546.9 198.6 C547.5 196.9 548.2 194.8 548.8 193.6 C549.3 192.4 549.7 192.0 550.1 191.5 C550.5 191.1 550.7 190.9 551.0 190.9 C551.3 190.9 551.6 190.9 552.0 191.5 C552.4 192.1 552.9 193.3 553.3 194.7 C553.7 196.0 554.0 197.8 554.4 199.6 C554.8 201.4 555.3 203.1 555.7 205.4 C556.2 207.6 556.7 210.2 557.2 212.9 C557.7 215.7 558.3 219.2 558.9 222.1 C559.5 225.0 560.2 228.3 560.8 230.5 C561.4 232.6 562.1 234.5 562.7 235.2 C563.3 235.8 563.9 234.8 564.6 234.4 C565.3 233.9 566.0 232.5 566.8 232.5 C567.6 232.6 568.6 233.5 569.5 234.6 C570.3 235.7 571.3 238.2 572.1 239.1 C572.8 240.0 573.3 239.9 574.0 239.9 C574.7 239.8 575.5 239.2 576.2 238.8 C577.0 238.5 577.4 237.4 578.5 237.8 C579.5 238.2 581.1 241.0 582.6 241.2 C584.1 241.4 585.7 239.0 587.5 239.1 C589.3 239.1 591.5 241.2 593.5 241.4 C595.5 241.7 597.5 240.4 599.5 240.5 C601.5 240.6 603.6 241.8 605.6 242.0 C607.6 242.1 609.4 241.5 611.6 241.5 C613.7 241.6 615.3 242.1 618.3 242.2 C621.3 242.3 624.6 242.2 629.6 242.2 C634.6 242.2 640.3 242.3 648.4 242.4 C656.6 242.4 673.5 242.5 678.5 242.5" fill="none" stroke="#e81515" stroke-width="1.5"/>
<path d="M490.5 316.4 C491.4 316.3 494.2 315.8 496.0 315.7 C497.8 315.7 499.7 316.0 501.3 316.1 C502.8 316.3 504.0 316.7 505.3 316.6 C506.6 316.5 508.0 315.8 509.3 315.7 C510.6 315.6 512.1 316.7 513.3 316.1 C514.5 315.6 515.6 315.0 516.7 312.4 C517.8 309.7 519.0 303.5 520.0 300.4 C521.0 297.3 522.0 295.3 522.9 293.7 C523.8 292.2 524.5 291.2 525.3 291.1 C526.2 291.0 527.1 291.8 528.0 293.0 C528.9 294.2 529.8 296.8 530.7 298.4 C531.6 300.0 532.6 301.8 533.3 302.4 C534.0 302.9 534.3 302.5 534.7 301.7 C535.2 300.9 535.4 299.1 536.0 297.4 C536.6 295.6 537.5 292.9 538.3 291.1 C539.0 289.3 539.8 288.0 540.5 286.4 C541.2 284.8 541.9 283.3 542.6 281.7 C543.2 280.0 543.8 278.2 544.5 276.5 C545.1 274.7 545.7 272.8 546.3 271.2 C547.0 269.6 547.7 267.8 548.2 266.8 C548.8 265.7 549.2 265.2 549.7 265.0 C550.2 264.7 550.6 264.7 551.0 265.2 C551.5 265.7 552.0 266.7 552.5 268.1 C553.0 269.5 553.5 271.3 554.0 273.8 C554.6 276.4 555.3 280.0 555.9 283.2 C556.6 286.5 557.2 290.1 557.8 293.2 C558.4 296.2 559.1 299.3 559.7 301.5 C560.3 303.8 561.0 305.7 561.6 306.8 C562.2 307.8 562.6 307.9 563.3 307.8 C563.9 307.7 564.7 306.5 565.3 306.0 C566.0 305.5 566.5 304.6 567.2 304.7 C567.9 304.7 568.6 305.3 569.5 306.2 C570.3 307.2 570.7 309.2 572.1 310.4 C573.5 311.7 575.9 312.8 577.7 313.8 C579.5 314.8 581.2 316.7 582.9 316.4 C584.6 316.1 586.5 313.9 588.0 312.1 C589.5 310.3 590.8 307.8 591.9 305.4 C593.1 303.0 593.8 299.6 594.9 297.9 C596.0 296.1 597.3 294.9 598.5 294.7 C599.6 294.6 600.7 295.6 601.8 297.2 C602.9 298.9 603.9 302.5 604.9 304.8 C606.0 307.1 607.2 309.7 608.0 311.1 C608.8 312.4 609.3 313.0 610.0 313.0 C610.7 313.1 611.4 311.8 612.3 311.2 C613.2 310.7 614.1 309.8 615.2 309.8 C616.3 309.8 617.6 310.4 618.9 311.2 C620.3 312.1 621.7 314.8 623.3 314.9 C624.9 315.1 626.8 312.8 628.4 312.0 C630.0 311.2 631.3 310.0 632.8 310.0 C634.3 310.0 635.9 311.4 637.2 312.0 C638.6 312.6 639.6 313.2 640.9 313.4 C642.2 313.6 643.9 312.8 645.3 313.0 C646.7 313.2 648.0 314.0 649.6 314.4 C651.2 314.8 653.2 315.1 654.8 315.3 C656.4 315.4 657.5 315.1 659.2 315.3 C660.9 315.5 663.1 316.2 665.0 316.4 C667.0 316.6 668.7 316.5 670.9 316.4 C673.2 316.3 677.2 316.0 678.5 315.9" fill="none" stroke="#222" stroke-width="1.2"/>
<path d="M490.5 315.3 C491.4 315.2 494.2 314.9 496.0 314.8 C497.8 314.6 499.5 314.5 501.3 314.3 C503.1 314.2 504.9 313.9 506.7 313.7 C508.5 313.5 510.2 313.4 512.0 313.0 C513.8 312.7 515.8 312.2 517.3 311.7 C518.9 311.1 520.0 310.5 521.3 309.7 C522.7 308.9 524.0 307.7 525.3 307.0 C526.6 306.3 528.0 306.1 529.3 305.4 C530.6 304.7 532.3 303.9 533.3 303.0 C534.3 302.1 534.6 301.3 535.2 300.0 C535.9 298.7 536.6 296.8 537.3 295.3 C538.0 293.7 538.7 291.9 539.4 290.6 C540.0 289.2 540.7 288.3 541.3 287.0 C541.9 285.7 542.5 284.3 543.1 282.7 C543.8 281.1 544.7 279.2 545.3 277.5 C545.9 275.8 546.3 274.0 546.9 272.3 C547.5 270.6 548.2 268.5 548.8 267.3 C549.3 266.1 549.7 265.7 550.1 265.2 C550.5 264.8 550.7 264.6 551.0 264.6 C551.3 264.6 551.6 264.6 552.0 265.2 C552.4 265.8 552.9 267.0 553.3 268.4 C553.7 269.7 554.0 271.5 554.4 273.3 C554.8 275.1 555.3 276.8 555.7 279.1 C556.2 281.3 556.7 283.9 557.2 286.6 C557.7 289.4 558.3 292.9 558.9 295.8 C559.5 298.7 560.2 302.0 560.8 304.2 C561.4 306.3 562.1 308.2 562.7 308.9 C563.3 309.5 563.9 308.5 564.6 308.1 C565.3 307.6 566.0 306.2 566.8 306.2 C567.6 306.3 568.6 307.2 569.5 308.3 C570.3 309.4 571.3 311.9 572.1 312.8 C572.8 313.7 573.3 313.6 574.0 313.6 C574.7 313.5 575.5 312.9 576.2 312.5 C577.0 312.2 577.4 311.1 578.5 311.5 C579.5 311.9 581.1 314.7 582.6 314.9 C584.1 315.1 585.7 312.7 587.5 312.8 C589.3 312.8 591.5 314.9 593.5 315.1 C595.5 315.4 597.5 314.1 599.5 314.2 C601.5 314.3 603.6 315.5 605.6 315.7 C607.6 315.8 609.4 315.2 611.6 315.2 C613.7 315.3 615.3 315.8 618.3 315.9 C621.3 316.0 624.6 315.9 629.6 315.9 C634.6 315.9 640.3 316.0 648.4 316.1 C656.6 316.1 673.5 316.2 678.5 316.2" fill="none" stroke="#e81515" stroke-width="1.5"/>
<path d="M490.5 86.4 H534.3 V34.1 H582.2 V86.4 H678.0" fill="none" stroke="#3db87a" stroke-width="1.3" stroke-dasharray="3.6 3"/>
<path d="M490.5 164.8 H534.3 V112.5 H582.2 V164.8 H678.0" fill="none" stroke="#3db87a" stroke-width="1.3" stroke-dasharray="3.6 3"/>
<path d="M490.5 243.0 H534.3 V190.7 H582.2 V243.0 H678.0" fill="none" stroke="#3db87a" stroke-width="1.3" stroke-dasharray="3.6 3"/>
<path d="M490.5 316.7 H534.3 V264.4 H582.2 V316.7 H678.0" fill="none" stroke="#3db87a" stroke-width="1.3" stroke-dasharray="3.6 3"/>
</g>
<text class="s" x="618.7" y="69.7" font-size="8.45" fill="#111">x = 0.05 Argon</text>
<text class="s" x="618.7" y="149.7" font-size="8.45" fill="#111">x = 0.10 Argon</text>
<text class="s" x="618.7" y="225.4" font-size="8.45" fill="#111">x = 0.05 Air</text>
<text class="s" x="618.7" y="298.4" font-size="8.45" fill="#111">x = 0.10 Air</text>
<path d="M490.5 8 H678.3 V321.6 H490.5 Z" fill="none" stroke="#444" stroke-width="1.3"/>
<path d="M490.5 321.6 h-3 M490.5 269.3 h-3 M490.5 217.1 h-3 M490.5 164.8 h-3 M490.5 112.5 h-3 M490.5 60.2 h-3 M490.5 8.0 h-3 M490.5 321.6 v3.5 M528.1 321.6 v2.0 M565.7 321.6 v3.5 M603.3 321.6 v2.0 M640.9 321.6 v3.5 M678.5 321.6 v2.0" stroke="#444" stroke-width="1.2"/>
<g class="s" font-size="10.4" fill="#111" text-anchor="middle">
<text x="478.8" y="325.2">0</text>
<text x="478.8" y="272.9">1</text>
<text x="478.8" y="220.7">2</text>
<text x="478.8" y="168.4">3</text>
<text x="478.8" y="116.1">4</text>
<text x="478.8" y="63.9">5</text>
<text x="478.8" y="11.6">6</text>
<text x="490.5" y="338.6">0</text>
<text x="565.7" y="338.6">2</text>
<text x="640.9" y="338.6">4</text>
</g>
<text class="s" x="595.2" y="351.6" font-size="10.7" fill="#111" text-anchor="middle">Radial distance (Å)</text>
<text class="s" transform="translate(467.5 169.5) rotate(-90)" font-size="10.7" fill="#222" text-anchor="middle">|χ(R)| (Å<tspan font-size="7" dy="-4">-4</tspan><tspan dy="4">)</tspan></text>
</svg></body></html>
